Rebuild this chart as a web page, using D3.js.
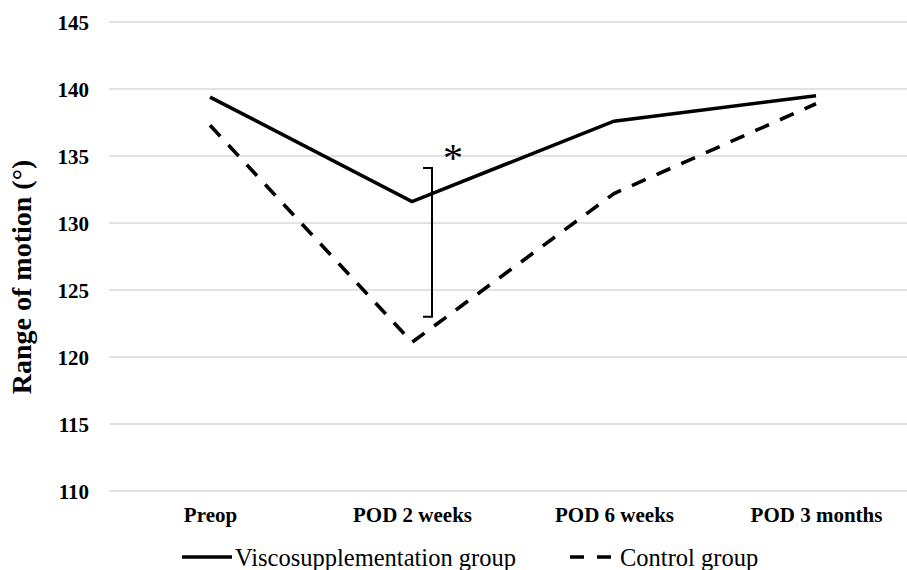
<!DOCTYPE html>
<html>
<head>
<meta charset="utf-8">
<script src="https://cdn.jsdelivr.net/npm/d3@7"></script>
<style>
  html, body { margin: 0; padding: 0; background: #fff; }
  svg { display: block; }
</style>
</head>
<body>
<svg id="chart" width="907" height="570"></svg>
<script>
const categories = ["Preop", "POD 2 weeks", "POD 6 weeks", "POD 3 months"];
const viscoValues = [139.4, 131.6, 137.6, 139.5];
const controlValues = [137.3, 121.1, 132.2, 138.9];
const yTicks = [110, 115, 120, 125, 130, 135, 140, 145];
const seriesNames = ["Viscosupplementation group", "Control group"];
const bracketRange = [123.0, 134.1];

const svg = d3.select("#chart");
const FONT = '"Liberation Serif"';

const x = d3.scalePoint().domain(categories).range([109, 917]).padding(0.5);
const y = d3.scaleLinear().domain([110, 145]).range([491, 22]);

// gridlines
svg.append("g").selectAll("line").data(yTicks).join("line")
  .attr("x1", 109).attr("x2", 917)
  .attr("y1", d => y(d)).attr("y2", d => y(d))
  .attr("stroke", "#d9d9d9").attr("stroke-width", 1.3);

// y axis tick labels
const yAxis = d3.axisLeft(y).tickValues(yTicks).tickSize(0).tickPadding(0);
const gy = svg.append("g").attr("transform", "translate(89,0)").call(yAxis);
gy.select(".domain").remove();
gy.selectAll("text")
  .style("font-family", FONT).style("font-size", "21px").style("font-weight", "bold")
  .attr("fill", "#000").attr("dy", "0.35em");

// x axis labels
const xAxis = d3.axisBottom(x).tickSize(0).tickPadding(0);
const gx = svg.append("g").attr("transform", "translate(0,507)").call(xAxis);
gx.select(".domain").remove();
gx.selectAll("text")
  .style("font-family", FONT).style("font-size", "21px").style("font-weight", "bold")
  .attr("fill", "#000").attr("dy", "0.71em");

// y title
svg.append("text")
  .attr("transform", "translate(31,277) rotate(-90)")
  .attr("text-anchor", "middle")
  .style("font-family", FONT).style("font-size", "28px").style("font-weight", "bold")
  .attr("fill", "#000")
  .text("Range of motion (°)");

const line = d3.line().x((d, i) => x(categories[i])).y(d => y(d));

svg.append("path").datum(controlValues)
  .attr("d", line).attr("fill", "none").attr("stroke", "#000")
  .attr("stroke-width", 3.6).attr("stroke-dasharray", "15,12");

svg.append("path").datum(viscoValues)
  .attr("d", line).attr("fill", "none").attr("stroke", "#000")
  .attr("stroke-width", 3.6).attr("stroke-linejoin", "miter");

// significance bracket
const bx = x("POD 2 weeks") + 20;
svg.append("path")
  .attr("d", `M${bx - 9},${y(bracketRange[1])} H${bx} V${y(bracketRange[0])} H${bx - 9}`)
  .attr("fill", "none").attr("stroke", "#000").attr("stroke-width", 2);
svg.append("text")
  .attr("x", bx + 21).attr("y", y(bracketRange[1]) + 3)
  .attr("text-anchor", "middle")
  .style("font-family", FONT).style("font-size", "40px")
  .attr("fill", "#000").text("*");

// legend
const lg = svg.append("g");
const legendY = 557;
lg.append("line").attr("x1", 182).attr("x2", 232).attr("y1", legendY).attr("y2", legendY)
  .attr("stroke", "#000").attr("stroke-width", 3.6);
lg.append("text").attr("x", 235).attr("y", legendY).attr("dy", "0.35em")
  .style("font-family", FONT).style("font-size", "24.5px").attr("fill", "#000")
  .text(seriesNames[0]);
lg.append("line").attr("x1", 570).attr("x2", 611).attr("y1", legendY).attr("y2", legendY)
  .attr("stroke", "#000").attr("stroke-width", 3.6).attr("stroke-dasharray", "14,13");
lg.append("text").attr("x", 620).attr("y", legendY).attr("dy", "0.35em")
  .style("font-family", FONT).style("font-size", "24.5px").attr("fill", "#000")
  .text(seriesNames[1]);
</script>
</body>
</html>
